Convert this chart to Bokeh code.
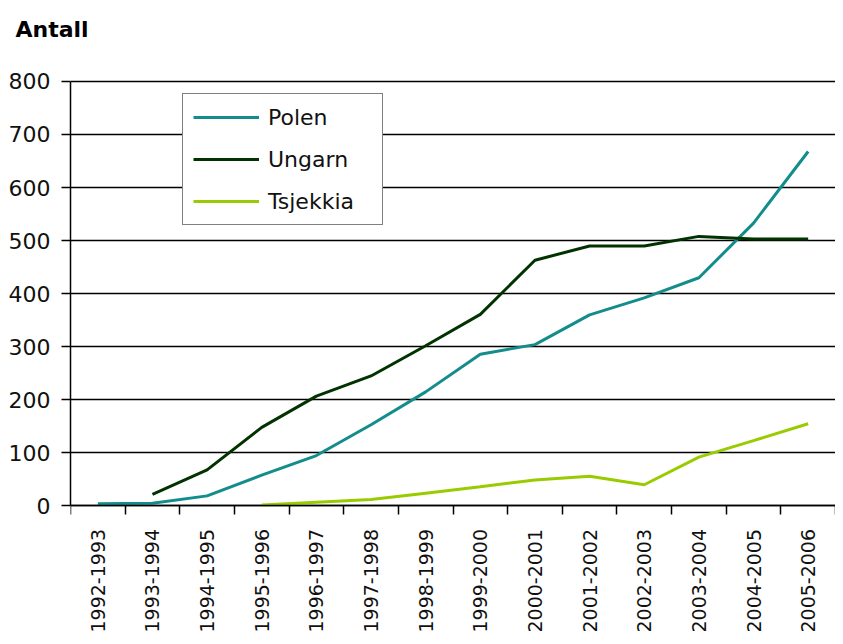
import math
from bokeh.plotting import figure
from bokeh.models import Range1d, FixedTicker, Legend, LegendItem, ColumnDataSource
from bokeh.embed import file_html
from bokeh.resources import INLINE

seasons = ["1992-1993", "1993-1994", "1994-1995", "1995-1996", "1996-1997",
           "1997-1998", "1998-1999", "1999-2000", "2000-2001", "2001-2002",
           "2002-2003", "2003-2004", "2004-2005", "2005-2006"]
polen = [4, 5, 19, 58, 95, 153, 215, 286, 304, 360, 392, 430, 533, 668]
ungarn = [None, 22, 68, 148, 207, 245, 302, 361, 463, 490, 490, 508, 503, 503]
tsjekkia = [None, None, None, 2, 7, 12, 24, 36, 49, 56, 40, 92, 123, 155]
y_ticks = [0, 100, 200, 300, 400, 500, 600, 700, 800]

FONT = "DejaVu Sans"
Y_MAX = 800
FIG_W, FIG_H = 835, 636
FRAME_TOP = 58          # canvas px above the plotting area (title panel)
TOP_GAP = 21            # px between frame top and the 800 line
FRAME_LEFT = 70
DATA_H = 426            # px spanned by 0..800
frame_h = FIG_H - FRAME_TOP
px_per_unit = DATA_H / Y_MAX
y_end = Y_MAX + TOP_GAP / px_per_unit
y_start = y_end - frame_h / px_per_unit   # room below 0 for the rotated category labels

def clean(vals):
    return [float("nan") if v is None else float(v) for v in vals]

xs = list(range(len(seasons)))

p = figure(width=FIG_W, height=FIG_H, output_backend="svg", toolbar_location=None,
           x_range=Range1d(-0.5, len(seasons) - 0.5), y_range=Range1d(y_start, y_end),
           min_border_left=FRAME_LEFT, min_border_right=0, min_border_top=FRAME_TOP,
           min_border_bottom=0)
p.background_fill_color = "white"
p.border_fill_color = "white"
p.outline_line_color = None

p.title.text = "Antall"
p.title.text_font = FONT
p.title.text_font_size = "22px"
p.title.text_font_style = "bold"
p.title.text_color = "#000000"
p.title.align = "left"
p.title.vertical_align = "top"
p.title.offset = -55
p.title.standoff = 33

# y axis
p.yaxis.ticker = FixedTicker(ticks=y_ticks)
p.yaxis.bounds = (0, Y_MAX)
p.yaxis.major_label_text_font = FONT
p.yaxis.major_label_text_font_size = "22px"
p.yaxis.major_label_text_color = "#111111"
p.yaxis.major_tick_out = 9
p.yaxis.major_tick_in = 0
p.yaxis.minor_tick_line_color = None
p.yaxis.major_label_standoff = 11
p.yaxis.axis_line_color = "#000000"
p.yaxis.axis_line_width = 1.5
p.yaxis.major_tick_line_width = 1.5

# x axis fixed at y=0: labels at category centres, tick marks between categories
p.xaxis.fixed_location = 0
p.xaxis.ticker = FixedTicker(ticks=xs, minor_ticks=[i - 0.5 for i in range(len(seasons) + 1)])
p.xaxis.major_label_overrides = {i: s for i, s in enumerate(seasons)}
p.xaxis.major_label_orientation = math.pi / 2
p.xaxis.major_label_text_font = FONT
p.xaxis.major_label_text_font_size = "19px"
p.xaxis.major_label_text_color = "#111111"
p.xaxis.major_tick_line_color = None
p.xaxis.major_tick_out = 0
p.xaxis.major_tick_in = 0
p.xaxis.minor_tick_out = 9
p.xaxis.minor_tick_in = 0
p.xaxis.minor_tick_line_width = 1.5
p.xaxis.minor_tick_line_color = "#000000"
p.xaxis.major_label_standoff = 14
p.xaxis.axis_line_color = "#000000"
p.xaxis.axis_line_width = 1.5

p.xgrid.grid_line_color = None
p.ygrid.ticker = FixedTicker(ticks=y_ticks)
p.ygrid.grid_line_color = "#000000"
p.ygrid.grid_line_width = 1.5

src = ColumnDataSource(dict(x=xs, polen=clean(polen), ungarn=clean(ungarn), tsjekkia=clean(tsjekkia)))
r1 = p.line("x", "polen", source=src, line_color="#138C8C", line_width=3)
r2 = p.line("x", "ungarn", source=src, line_color="#003300", line_width=3)
r3 = p.line("x", "tsjekkia", source=src, line_color="#99CC00", line_width=3)

legend = Legend(items=[LegendItem(label="Polen", renderers=[r1]),
                       LegendItem(label="Ungarn", renderers=[r2]),
                       LegendItem(label="Tsjekkia", renderers=[r3])],
                location=(112, 411))
legend.label_text_font = FONT
legend.label_text_font_size = "22px"
legend.label_text_color = "#111111"
legend.glyph_width = 66
legend.glyph_height = 26
legend.label_height = 26
legend.label_width = 104
legend.label_standoff = 9
legend.spacing = 16
legend.padding = 10
legend.margin = 0
legend.border_line_color = "#000000"
legend.border_line_width = 1.5
legend.background_fill_color = "white"
legend.background_fill_alpha = 1.0
p.add_layout(legend, "center")

open("out.html", "w").write(file_html(p, INLINE))
